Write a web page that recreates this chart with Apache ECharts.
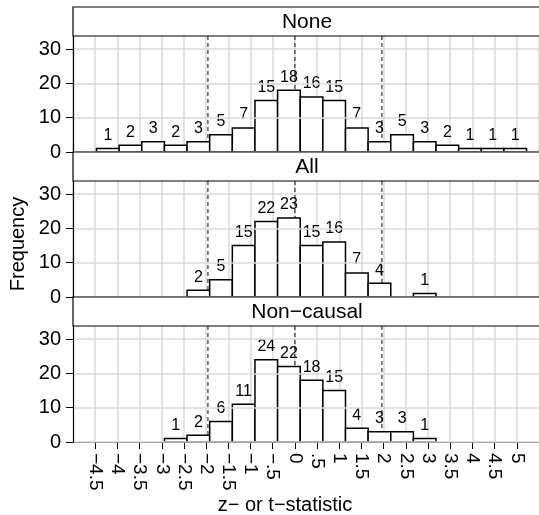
<!DOCTYPE html>
<html>
<head>
<meta charset="utf-8">
<script src="https://cdn.jsdelivr.net/npm/echarts@6/dist/echarts.min.js"></script>
<style>
  html, body { margin: 0; padding: 0; background: #fff; }
  #chart { width: 539px; height: 515px; }
</style>
</head>
<body>
<div id="chart"></div>
<script>
// histogram bin edges
const binEdges = [-4.47, -3.96, -3.45, -2.94, -2.43, -1.92, -1.41, -0.90, -0.39, 0.12,
  0.63, 1.14, 1.65, 2.16, 2.67, 3.18, 3.69, 4.20, 4.71, 5.22];
const panelNames = ['None', 'All', 'Non\u2212causal'];
const countsNone = [1, 2, 3, 2, 3, 5, 7, 15, 18, 16, 15, 7, 3, 5, 3, 2, 1, 1, 1];
const countsAll = [0, 0, 0, 0, 2, 5, 15, 22, 23, 15, 16, 7, 4, 0, 1, 0, 0, 0, 0];
const countsNonCausal = [0, 0, 0, 1, 2, 6, 11, 24, 22, 18, 15, 4, 3, 3, 1, 0, 0, 0, 0];
const xTicks = [-4.5, -4, -3.5, -3, -2.5, -2, -1.5, -1, -0.5, 0, 0.5, 1, 1.5, 2, 2.5, 3, 3.5, 4, 4.5, 5];
const xTickLabels = ['\u22124.5', '\u22124', '\u22123.5', '\u22123', '\u22122.5', '\u22122', '\u22121.5', '\u22121', '\u2212.5',
  '0', '.5', '1', '1.5', '2', '2.5', '3', '3.5', '4', '4.5', '5'];
const yTicks = [0, 10, 20, 30];
const refLines = [-1.96, 0, 1.96];

const allCounts = [countsNone, countsAll, countsNonCausal];
const FONT = 'Liberation Sans, Arial, sans-serif';
const yMax = 33.8;
const gridTops = [36, 181, 326];
const panelH = 116;
const stripH = 29;

const chart = echarts.init(document.getElementById('chart'));

const grids = [], xAxes = [], yAxes = [], series = [], graphics = [];

gridTops.forEach(function (top, i) {
  const last = i === gridTops.length - 1;
  grids.push({ left: 73, right: -3, top: top, height: panelH });
  xAxes.push({
    type: 'value', gridIndex: i, min: -5, max: 5.5, interval: 0.5,
    axisLine: { show: true, onZero: false, lineStyle: { color: '#000', width: 1.2 } },
    axisTick: last ? { show: true, length: 7, customValues: xTicks, lineStyle: { color: '#000', width: 1 } } : { show: false },
    axisLabel: last ? {
      show: true, customValues: xTicks, rotate: -90, margin: 11,
      fontFamily: FONT, fontSize: 19, color: '#000',
      formatter: function (v) {
        const k = xTicks.indexOf(v);
        return k >= 0 ? xTickLabels[k] : '';
      }
    } : { show: false },
    splitLine: { show: true, lineStyle: { color: '#dadada', width: 1.5 } }
  });
  yAxes.push({
    type: 'value', gridIndex: i, min: 0, max: yMax, interval: 10, z: 5,
    axisLine: { show: true, onZero: false, lineStyle: { color: '#000', width: 1.2 } },
    axisTick: { show: true, length: 7, customValues: yTicks, lineStyle: { color: '#000', width: 1 } },
    axisLabel: { show: true, customValues: yTicks, margin: 12, fontFamily: FONT, fontSize: 20, color: '#000' },
    splitLine: { show: true, lineStyle: { color: '#dadada', width: 1.5 } }
  });

  // dashed reference lines at -1.96, 0, 1.96 (behind the bars)
  series.push({
    type: 'custom', xAxisIndex: i, yAxisIndex: i, z: 2,
    data: refLines,
    renderItem: function (params, api) {
      const a = api.coord([api.value(0), 0]);
      const b = api.coord([api.value(0), yMax]);
      return {
        type: 'line',
        shape: { x1: a[0], y1: a[1], x2: b[0], y2: b[1] },
        style: { stroke: '#333', lineWidth: 1.2, lineDash: [4, 3] }
      };
    }
  });

  // bars with count labels
  const data = [];
  allCounts[i].forEach(function (c, k) {
    if (c > 0) data.push([binEdges[k], binEdges[k + 1], c]);
  });
  series.push({
    type: 'custom', xAxisIndex: i, yAxisIndex: i, z: 3,
    data: data,
    renderItem: function (params, api) {
      const p0 = api.coord([api.value(0), api.value(2)]);
      const p1 = api.coord([api.value(1), 0]);
      return {
        type: 'group',
        children: [{
          type: 'rect',
          shape: { x: p0[0], y: p0[1], width: p1[0] - p0[0], height: p1[1] - p0[1] },
          style: { fill: '#fff', stroke: '#000', lineWidth: 1.5 }
        }, {
          type: 'text',
          x: (p0[0] + p1[0]) / 2, y: p0[1] - 5,
          style: {
            text: String(api.value(2)), fill: '#000', font: '16px ' + FONT,
            textAlign: 'center', textVerticalAlign: 'bottom'
          }
        }]
      };
    }
  });

  // facet strip
  graphics.push({
    type: 'rect', z: 10,
    shape: { x: 73, y: top - stripH, width: 480, height: stripH },
    style: { fill: '#fff', stroke: '#000', lineWidth: 1.2 }
  });
  graphics.push({
    type: 'text', z: 11,
    x: 307, y: top - stripH / 2 + 1,
    style: { text: panelNames[i], font: '21px ' + FONT, fill: '#000', textAlign: 'center', textVerticalAlign: 'middle' }
  });
});

graphics.push({
  type: 'text', x: 285, y: 505,
  style: { text: 'z\u2212 or t\u2212statistic', font: '20px ' + FONT, fill: '#000', textAlign: 'center', textVerticalAlign: 'middle' }
});
graphics.push({
  type: 'text', x: 18, y: 244, rotation: Math.PI / 2,
  style: { text: 'Frequency', font: '20px ' + FONT, fill: '#000', textAlign: 'center', textVerticalAlign: 'middle' }
});

chart.setOption({
  animation: false,
  grid: grids,
  xAxis: xAxes,
  yAxis: yAxes,
  series: series,
  graphic: graphics
});
</script>
</body>
</html>
